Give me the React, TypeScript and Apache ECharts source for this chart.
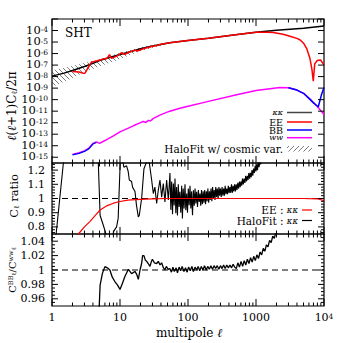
import React, { useEffect, useRef } from "react";
import * as echarts from "echarts";

const FONT = "DejaVu Serif";

// ---------- Top panel: log10 of l(l+1)C_l/2pi ----------
const kkL = [1, 1.5, 2, 3, 4, 5, 7, 10, 15, 20, 30, 54, 100, 200, 500, 1000, 2000, 5000, 10000];
const kkLog = [-7.96, -7.7, -7.47, -7.12, -6.85, -6.6, -6.35, -6.08, -5.8, -5.58, -5.35, -5.06, -4.87, -4.68, -4.36, -4.16, -3.98, -3.8, -3.6];

const eeL = [2, 2.5, 2.9, 3.05, 3.8, 4.5, 5.7, 6.5, 7, 7.5, 9, 10.5, 11.8, 14, 16.6, 18, 22, 24, 26, 30, 35, 40, 54, 100, 200, 500, 1000, 1500, 1780, 2500, 3160, 4000, 4470, 5000, 5600, 6200, 6620, 6960, 7300, 7960, 8900, 10000];
const eeLog = [-7.55, -7.6, -7.72, -7.7, -6.75, -6.65, -6.48, -6.4, -6.1, -6.42, -6.22, -5.93, -6.07, -5.84, -5.7, -5.78, -5.58, -5.52, -5.47, -5.36, -5.3, -5.2, -5.06, -4.87, -4.68, -4.36, -4.16, -4.14, -4.18, -4.32, -4.5, -4.68, -4.82, -5.1, -5.6, -6.4, -7.3, -8.4, -6.9, -6.6, -6.55, -7.0];

const wwL = [2, 2.5, 3, 3.5, 4, 4.5, 5, 6, 8, 10, 13, 16, 20, 22, 24, 26, 28, 31, 40, 54, 76, 100, 200, 500, 1000, 2240, 3000, 4000, 5000, 6300, 8000, 10000];
const wwLog = [-14.75, -14.6, -14.45, -14.2, -13.8, -13.67, -13.8, -13.55, -13.15, -12.8, -12.5, -12.25, -12.0, -11.9, -11.98, -11.8, -11.85, -11.63, -11.3, -11.0, -10.75, -10.57, -10.15, -9.6, -9.2, -8.94, -8.96, -9.17, -9.45, -10.0, -10.6, -11.3];

const bbLowL = [2, 2.5, 3, 3.5, 4, 4.5];
const bbLowLog = [-14.8, -14.66, -14.5, -14.25, -13.85, -13.72];
const bbHighL = [3000, 4000, 5000, 6300, 7000, 7960, 8250, 8700, 9200, 10000];
const bbHighLog = [-8.96, -9.17, -9.45, -10.0, -10.28, -10.55, -10.62, -10.1, -9.55, -8.94];

const bandL = [1, 1.8, 3.1, 5.1, 9, 19.6, 40, 60];
const bandHiLog = [-7.45, -7.15, -6.8, -6.5, -6.02, -5.46, -5.12, -4.98];
const bandLoLog = [-8.9, -8.25, -7.58, -7.1, -6.57, -5.8, -5.32, -5.1];

// ---------- Middle panel: C_l ratio ----------
const eeRatioL = [2.2, 2.44, 3, 3.6, 4.3, 5.1, 6.5, 8, 9.6, 13, 19.6, 30, 50, 100, 1000, 5000, 8000, 10000];
const eeRatioV = [0.7, 0.75, 0.8, 0.837, 0.88, 0.919, 0.95, 0.967, 0.977, 0.988, 0.994, 0.998, 1.0, 1.0, 1.0, 1.0, 0.998, 0.985];

const haloRatioL = [
  1, 1.15, 1.47, 2.5, 4.5, 4.8, 5.1, 5.7, 6.3, 7.2, 8.1, 8.9, 9.4, 10.1, 10.7, 11.4, 12.5, 13.2, 13.7, 14.8,
  15.3, 16.6, 17.5, 18.6, 19.2, 20.8, 22.5, 24.7, 27, 29.2, 30.9, 32.6, 34.6, 36.6, 38.7, 41, 43.3, 45.8, 48.5, 51.4,
  54.3, 55.9, 57.5, 59.2, 60.9, 62.6, 64.4, 66.2, 68, 70, 72, 74, 76, 78.3, 80.7, 82.8, 85, 87.6, 90.3, 92.9,
  95.6, 98.3, 101, 104, 107, 110, 113, 116.5, 120, 123.5, 127, 130.5, 134, 138, 142, 146, 150, 154, 158, 162.5,
  167, 171.5, 176, 181, 186, 191, 196, 201.5, 207, 212.5, 218, 224, 230, 236.5, 243, 249.5, 256, 263, 270, 277.5,
  285, 292.5, 300, 308.5, 317, 325.5, 334, 343, 352, 362, 372, 382, 392, 403, 414, 425, 436, 448, 460, 472.5,
  485, 498.5, 512, 526, 540, 555, 570, 585, 600, 616.5, 633, 650.5, 668, 686.5, 705, 724.5, 744, 764.5, 785, 806.5,
  828, 850.5, 873, 897, 921, 946.5, 972, 998.5, 1025, 1052.5, 1080, 1110, 1140, 1170, 1200, 1235, 1270,
];
const haloRatioV = [
  0.6, 0.75, 1.25, 1.7, 1.4, 1.25, 0.88, 0.81, 0.74, 0.65, 0.77, 0.8, 0.86, 1.27, 1.3, 1.22, 1.23, 1.19, 1.13, 1.12,
  1.08, 1.05, 0.95, 0.87, 0.88, 1.0, 1.21, 1.26, 1.25, 1.13, 1.035, 1.08, 0.965, 1.06, 1.13, 1.01, 1.105, 0.976, 1.13, 0.99,
  1.18, 0.92, 1.12, 0.89, 1.105, 0.95, 1.14, 0.896, 1.08, 0.88, 1.1, 0.94, 1.047, 0.9, 1.09, 0.86, 1.07, 0.93, 1.1, 0.918,
  1.035, 0.9, 1.07, 0.953, 1.09, 0.93, 1.05, 0.882, 1.058, 0.95, 1.07, 0.965, 1.047, 0.94, 1.06, 0.976, 1.035, 0.95, 1.06, 0.96,
  1.05, 0.97, 1.06, 0.96, 1.05, 0.98, 1.07, 0.97, 1.05, 0.99, 1.07, 0.98, 1.08, 1.0, 1.06, 0.99, 1.08, 1.01, 1.07, 1.0,
  1.08, 1.02, 1.07, 1.01, 1.08, 1.02, 1.07, 1.02, 1.09, 1.03, 1.07, 1.03, 1.09, 1.04, 1.08, 1.04, 1.1, 1.04, 1.09, 1.05,
  1.1, 1.05, 1.1, 1.06, 1.11, 1.07, 1.12, 1.08, 1.12, 1.09, 1.14, 1.1, 1.14, 1.11, 1.16, 1.12, 1.16, 1.13, 1.18, 1.14,
  1.18, 1.15, 1.2, 1.16, 1.21, 1.18, 1.23, 1.19, 1.24, 1.2, 1.26, 1.22, 1.27, 1.24, 1.28, 1.26, 1.3,
];

// ---------- Bottom panel: C_l^BB / C_l^ww ----------
const bbRatioL = [
  4.9, 5.1, 5.5, 6, 6.5, 7.1, 7.7, 8.4, 9.2, 10, 10.9, 11.8, 13.3, 14.8, 16.6, 17.6, 18.6, 19.7, 20.8, 21.5,
  22.5, 23.5, 24.7, 26, 27.6, 29, 30, 32, 34.6, 36.6, 38.8, 41, 43, 45.6, 48, 51, 54, 57, 60, 63,
  67, 70, 74, 78, 82, 87, 92, 97, 102, 108, 114, 120, 127, 134, 141, 149, 157, 166, 175, 185,
  195, 206, 217, 229, 242, 255, 269, 284, 300, 317, 334, 352, 372, 392, 414, 437, 461, 486, 513, 541,
  571, 603, 636, 671, 708, 747, 788, 832, 878, 926, 977, 1031, 1088, 1148, 1211, 1278, 1348, 1422, 1501, 1584,
  1671, 1763, 1860, 1963, 2071, 2185,
];
const bbRatioV = [
  0.94, 0.979, 0.995, 1.0047, 1.003, 1.0, 0.99, 0.984, 0.979, 0.973, 0.982, 0.991, 1.001, 0.995, 0.998, 0.994, 0.987, 1.0, 1.009, 1.02,
  1.02, 1.014, 1.012, 1.009, 1.005, 1.012, 1.015, 1.01, 1.009, 1.012, 1.007, 1.01, 1.004, 1.0, 1.005, 1.001, 1.002, 0.997, 1.004, 0.998,
  1.003, 0.996, 1.004, 0.999, 1.005, 0.998, 1.003, 0.997, 1.004, 0.999, 1.005, 0.998, 1.004, 1.0, 1.005, 0.999, 1.005, 1.0, 1.006, 1.0,
  1.005, 1.001, 1.006, 1.001, 1.006, 1.002, 1.006, 1.001, 1.006, 1.002, 1.007, 1.002, 1.007, 1.003, 1.007, 1.003, 1.008, 1.004, 1.002, 1.01,
  1.004, 1.012, 1.005, 1.013, 1.007, 1.015, 1.009, 1.017, 1.011, 1.019, 1.013, 1.021, 1.016, 1.025, 1.021, 1.03, 1.026, 1.035, 1.032, 1.041,
  1.038, 1.047, 1.044, 1.053, 1.051, 1.06,
];

const unityL = [1, 10000];
const unityV = [1, 1];

// ---------- Ticks ----------
const xMajorTicks = [1, 10, 100, 1000, 10000];
const xMinorTicks = [2, 3, 4, 5, 6, 7, 8, 9, 20, 30, 40, 50, 60, 70, 80, 90, 200, 300, 400, 500, 600, 700, 800, 900, 2000, 3000, 4000, 5000, 6000, 7000, 8000, 9000];
const topYMajor = [-15, -14, -13, -12, -11, -10, -9, -8, -7, -6, -5, -4, -3];
const midYMajor = [0.8, 0.9, 1.0, 1.1, 1.2];
const midYMinor = [0.76, 0.78, 0.82, 0.84, 0.86, 0.88, 0.92, 0.94, 0.96, 0.98, 1.02, 1.04, 1.06, 1.08, 1.12, 1.14, 1.16, 1.18, 1.22, 1.24];
const botYMajor = [0.96, 0.98, 1.0, 1.02, 1.04];
const botYMinor = [0.955, 0.965, 0.97, 0.975, 0.985, 0.99, 0.995, 1.005, 1.01, 1.015, 1.025, 1.03, 1.035, 1.045];

const zip = (xs: number[], ys: number[]) => xs.map((x, i) => [x, ys[i]]);

function hatch(back: boolean) {
  const s = 5;
  const c = document.createElement("canvas");
  c.width = s;
  c.height = s;
  const ctx = c.getContext("2d")!;
  ctx.strokeStyle = "#222";
  ctx.lineWidth = 0.6;
  ctx.beginPath();
  if (back) {
    ctx.moveTo(-1, -1);
    ctx.lineTo(s + 1, s + 1);
  } else {
    ctx.moveTo(-1, s + 1);
    ctx.lineTo(s + 1, -1);
  }
  ctx.stroke();
  return { image: c.toDataURL(), repeat: "repeat", imageWidth: s, imageHeight: s };
}

function tickSeries(gi: number, yRef: number, yMajor: number[], yMinor: number[], yMajLen: number) {
  return {
    type: "custom",
    xAxisIndex: gi,
    yAxisIndex: gi,
    silent: true,
    z: 20,
    data: [[10, yRef]],
    renderItem: (params: any, api: any) => {
      const cs = params.coordSys;
      const top = cs.y, bot = cs.y + cs.height, left = cs.x, right = cs.x + cs.width;
      const ch: any[] = [];
      const ln = (x1: number, y1: number, x2: number, y2: number) =>
        ch.push({ type: "line", shape: { x1, y1, x2, y2 }, style: { stroke: "#000", lineWidth: 1 } });
      for (const v of xMajorTicks) {
        const px = api.coord([v, yRef])[0];
        ln(px, bot, px, bot - 7);
        ln(px, top, px, top + 7);
      }
      for (const v of xMinorTicks) {
        const px = api.coord([v, yRef])[0];
        ln(px, bot, px, bot - 3.5);
        ln(px, top, px, top + 3.5);
      }
      for (const v of yMajor) {
        const py = api.coord([10, v])[1];
        ln(left, py, left + yMajLen, py);
        ln(right, py, right - yMajLen, py);
      }
      for (const v of yMinor) {
        const py = api.coord([10, v])[1];
        ln(left, py, left + 3, py);
        ln(right, py, right - 3, py);
      }
      return { type: "group", children: ch };
    },
  };
}

function line(gi: number, data: number[][], color: string, width: number, extra: any = {}) {
  return {
    type: "line",
    xAxisIndex: gi,
    yAxisIndex: gi,
    data,
    symbol: "none",
    silent: true,
    clip: true,
    lineStyle: { color, width, ...(extra.lineStyle || {}) },
    z: extra.z ?? 2,
  };
}

function buildOption() {
  const hatchBack = hatch(true);
  const hatchFwd = hatch(false);

  const gridBase = {
    left: 52,
    width: 272,
    show: true,
    borderColor: "#000",
    borderWidth: 1.2,
    backgroundColor: "transparent",
    containLabel: false,
    outerBoundsMode: "none",
  };
  const grid = [
    { ...gridBase, top: 19, height: 144 },
    { ...gridBase, top: 163, height: 71 },
    { ...gridBase, top: 234, height: 72 },
  ];

  const xAxis = [0, 1, 2].map((i) => ({
    type: "log",
    logBase: 10,
    gridIndex: i,
    min: 1,
    max: 10000,
    axisLine: { show: false },
    axisTick: { show: false },
    splitLine: { show: false },
    minorTick: { show: false },
    minorSplitLine: { show: false },
    axisLabel:
      i === 2
        ? {
            show: true,
            margin: 6,
            color: "#000",
            fontFamily: FONT,
            fontSize: 11,
            formatter: (v: number) => {
              const r = Math.round(v);
              return r >= 10000 ? "{b|10}{s|4}" : "{b|" + r + "}";
            },
            rich: {
              b: { fontFamily: FONT, fontSize: 11, color: "#000", lineHeight: 11, verticalAlign: "bottom" },
              s: { fontFamily: FONT, fontSize: 7.5, color: "#000", lineHeight: 7, verticalAlign: "top" },
            },
          }
        : { show: false },
  }));

  const common = {
    axisLine: { show: false },
    axisTick: { show: false },
    splitLine: { show: false },
    minorTick: { show: false },
  };
  const yAxis = [
    {
      ...common,
      type: "value",
      gridIndex: 0,
      min: -15.5,
      max: -3,
      splitNumber: 12,
      axisLabel: {
        margin: 4,
        showMinLabel: false,
        color: "#000",
        fontFamily: FONT,
        formatter: (v: number) => {
          const r = Math.round(v);
          if (Math.abs(v - r) > 1e-6) return "";
          return "{b|10}{s|" + r + "}";
        },
        rich: {
          b: { fontFamily: FONT, fontSize: 11.5, color: "#000", lineHeight: 10, verticalAlign: "bottom" },
          s: { fontFamily: FONT, fontSize: 7.5, color: "#000", lineHeight: 7, verticalAlign: "top" },
        },
      },
    },
    {
      ...common,
      type: "value",
      gridIndex: 1,
      min: 0.75,
      max: 1.25,
      splitNumber: 5,
      axisLabel: {
        margin: 7,
        color: "#000",
        fontFamily: FONT,
        fontSize: 11,
        lineHeight: 11,
        formatter: (v: number) => {
          const r = Math.round(v * 10) / 10;
          return Math.abs(v - r) > 1e-6 ? "" : String(r);
        },
      },
    },
    {
      ...common,
      type: "value",
      gridIndex: 2,
      min: 0.95,
      max: 1.05,
      splitNumber: 5,
      axisLabel: {
        margin: 7,
        color: "#000",
        fontFamily: FONT,
        fontSize: 11,
        lineHeight: 11,
        formatter: (v: number) => {
          const r = Math.round(v * 50) / 50;
          return Math.abs(v - r) > 1e-6 ? "" : String(r);
        },
      },
    },
  ];

  const bandSeries = {
    type: "custom",
    xAxisIndex: 0,
    yAxisIndex: 0,
    silent: true,
    z: 1,
    data: [[1, -8]],
    renderItem: (_p: any, api: any) => {
      const up = bandL.map((l, i) => api.coord([l, bandHiLog[i]]));
      const lo = bandL.map((l, i) => api.coord([l, bandLoLog[i]])).reverse();
      return {
        type: "polygon",
        shape: { points: up.concat(lo) },
        style: { fill: hatchBack, stroke: null },
      };
    },
  };

  const series: any[] = [
    bandSeries,
    line(0, zip(kkL, kkLog), "#000", 1.5),
    line(0, zip(eeL, eeLog), "#ff0000", 1.5, { z: 3 }),
    line(0, zip(wwL, wwLog), "#ff00ff", 1.5, { z: 3 }),
    line(0, zip(bbLowL, bbLowLog), "#0000ff", 1.3, { z: 4 }),
    line(0, zip(bbHighL, bbHighLog), "#0000ff", 1.5, { z: 4 }),

    line(1, zip(unityL, unityV), "#000", 1, { lineStyle: { type: [6, 4] } }),
    line(1, zip(haloRatioL, haloRatioV), "#000", 1.1, { z: 3 }),
    line(1, zip(eeRatioL, eeRatioV), "#ff0000", 1.2, { z: 4 }),

    line(2, zip(unityL, unityV), "#000", 1, { lineStyle: { type: [6, 4] } }),
    line(2, zip(bbRatioL, bbRatioV), "#000", 1.3, { z: 3 }),

    tickSeries(0, -8, topYMajor, [], 6),
    tickSeries(1, 1, midYMajor, midYMinor, 6),
    tickSeries(2, 1, botYMajor, botYMinor, 6),
  ];

  const T = (x: number, y: number, text: string, size: number, align: string, rich: any = {}, rotation = 0) => ({
    type: "text",
    x,
    y,
    rotation,
    silent: true,
    style: {
      text,
      fontFamily: FONT,
      fontSize: size,
      fill: "#000",
      align,
      verticalAlign: "middle",
      rich,
    },
  });
  const L = (x1: number, y1: number, x2: number, y2: number, stroke: string, w = 1.5) => ({
    type: "line",
    silent: true,
    shape: { x1, y1, x2, y2 },
    style: { stroke, lineWidth: w },
  });

  const legRich = (size: number) => ({
    n: { fontFamily: FONT, fontSize: size, fill: "#000", lineHeight: 7 },
    k: { fontFamily: FONT, fontSize: size - 2, fontStyle: "italic", fill: "#000", lineHeight: 6 },
  });

  const titleRich = (size: number) => ({
    a: { fontFamily: FONT, fontSize: size, fill: "#000", lineHeight: size, verticalAlign: "middle" },
    i: { fontFamily: FONT, fontSize: size, fontStyle: "italic", fill: "#000", lineHeight: size, verticalAlign: "middle" },
    sub: { fontFamily: FONT, fontSize: size * 0.65, fill: "#000", lineHeight: size * 0.6, verticalAlign: "bottom" },
    sup: { fontFamily: FONT, fontSize: size * 0.65, fill: "#000", lineHeight: size * 0.6, verticalAlign: "top" },
  });

  const graphic = [
    T(65, 33, "SHT", 12, "left"),
    // top legend
    T(283, 112.5, "{k|κκ}", 10, "right", legRich(10)),
    L(287, 112.5, 312, 112.5, "#444"),
    T(283, 122, "{n|EE}", 9.5, "right", legRich(9.5)),
    L(287, 122, 312, 122, "#ff0000"),
    T(283, 130, "{n|BB}", 9.5, "right", legRich(9.5)),
    L(287, 130, 312, 130, "#0000ff"),
    T(283, 137.7, "{k|ww}", 10, "right", legRich(10)),
    L(287, 137.7, 312, 137.7, "#ff00ff"),
    T(283, 148.5, "{n|HaloFit w/ cosmic var.}", 10.5, "right", legRich(10.5)),
    {
      type: "rect",
      silent: true,
      shape: { x: 287, y: 146, width: 25, height: 5.5 },
      style: { fill: hatchFwd, stroke: null },
    },
    // middle legend
    T(298, 210, "{n|EE : }{k|κκ}", 10.5, "right", legRich(10.5)),
    L(302, 210, 312, 210, "#ff0000", 1.2),
    T(298, 220.5, "{n|HaloFit : }{k|κκ}", 10.5, "right", legRich(10.5)),
    L(302, 220.5, 312, 220.5, "#000", 1.2),
    // axis titles
    T(12, 106, "{i|ℓ}{a|(}{i|ℓ}{a|+1)C}{sub|ℓ}{a|/2π}", 12, "center", titleRich(12), Math.PI / 2),
    T(14, 196, "{a|C}{sub|ℓ}{a| ratio}", 11.5, "center", titleRich(11.5), Math.PI / 2),
    T(12, 270, "{a|C}{sup|BB}{sub|ℓ}{a|/C}{sup|ww}{sub|ℓ}", 10, "center", titleRich(10), Math.PI / 2),
    T(189, 333, "{a|multipole }{i|ℓ}", 12, "center", titleRich(12)),
  ];

  return {
    animation: false,
    backgroundColor: "#fff",
    textStyle: { fontFamily: FONT },
    grid,
    xAxis,
    yAxis,
    series,
    graphic: { elements: graphic },
  };
}

export default function App() {
  const ref = useRef<HTMLDivElement>(null);
  useEffect(() => {
    const chart = echarts.init(ref.current!, null, { renderer: "svg" });
    chart.setOption(buildOption() as any);
    return () => chart.dispose();
  }, []);
  return (
    <div
      ref={ref}
      style={{ position: "absolute", left: 0, top: 0, width: 343, height: 343, background: "#fff" }}
    />
  );
}
